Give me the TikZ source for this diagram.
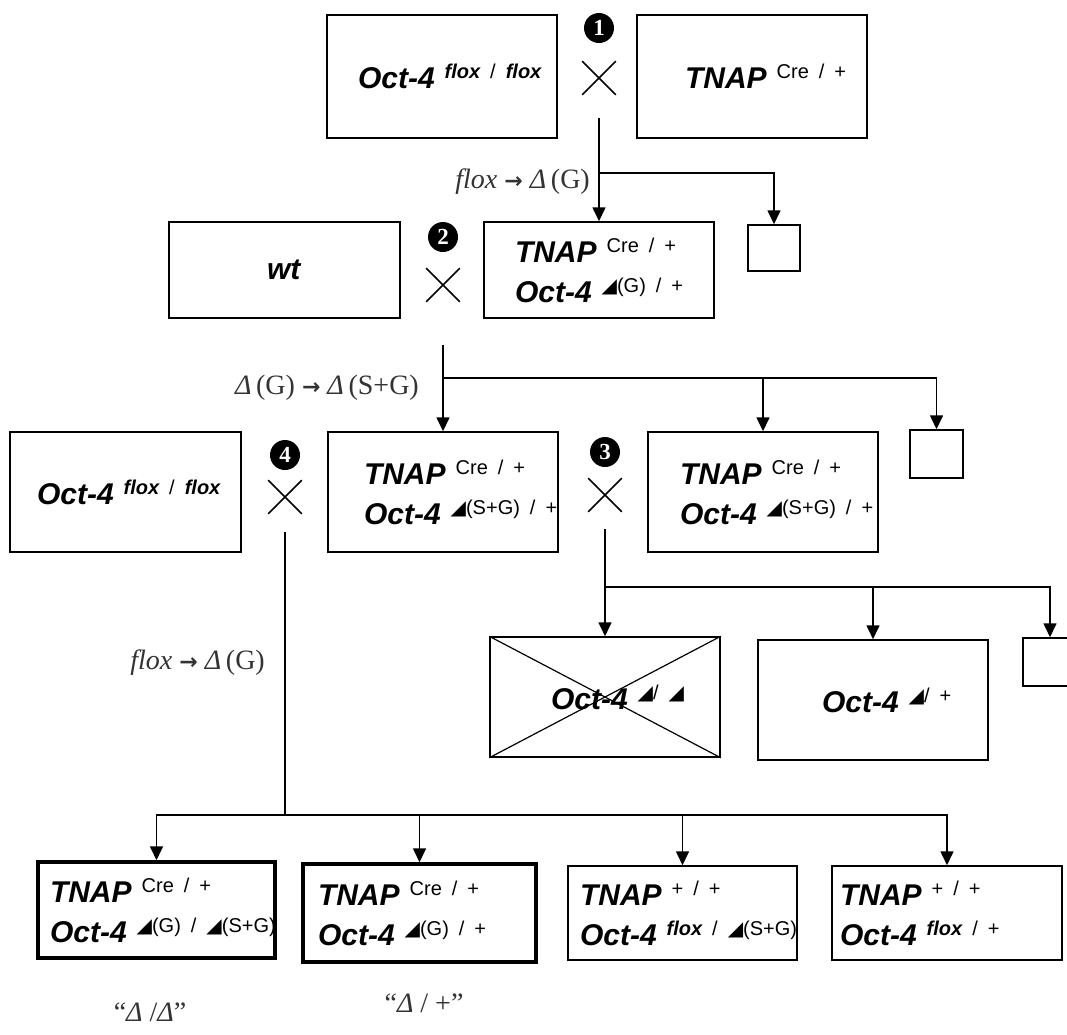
\documentclass[tikz,border=0pt]{standalone}
\usepackage{fontspec}
\setmainfont{Liberation Serif}
\setsansfont{Liberation Sans}
\newfontfamily\symfont{DejaVu Sans}
\usetikzlibrary{arrows.meta,shapes.misc}
\newcommand\genofont{\fontsize{30}{40}\selectfont\sffamily\bfseries\itshape}
\newcommand\sups[1]{\raisebox{10pt}{\fontsize{20}{20}\selectfont\mdseries\upshape #1}}
\newcommand\geno[2]{\mbox{#1 \sups{#2}}}
\newcommand\fl{{\bfseries\itshape flox}}
\newcommand\dl{{\symfont ◢}}
\newcommand\goes{{\symfont\bfseries\fontsize{22}{22}\selectfont →}}
\tikzset{
  gbox/.code n args={3}{\pgfmathsetmacro\boxtw{#1-2*#3}%
    \tikzset{draw, line width=1.5pt, minimum height=#2, inner xsep=#3, inner ysep=0pt,
             text width=\boxtw pt, align=left, font=\genofont}},
  sbox/.style={draw, line width=1.5pt, minimum width=52, minimum height=46, inner sep=0pt},
  xmark/.style={cross out, draw, line width=1.6pt, minimum size=32, inner sep=0pt},
  numb/.style={circle, fill=black, text=white, inner sep=0pt, minimum size=30,
               font=\fontsize{23}{23}\selectfont\bfseries},
  conn/.style={line width=1.6pt, -{Triangle[length=14pt,width=13pt]}},
  link/.style={line width=1.6pt},
  lab/.style={font=\fontsize{28}{32}\selectfont, text=black!80, inner sep=0pt},
}
\begin{document}
\begin{tikzpicture}[x=1pt, y=-1pt]
\clip (0,0) rectangle (1067,1034);

% first cross
\node[gbox={230}{123}{31}] (floxA) at (442,76.5) {\geno{Oct-4}{\fl{} / \fl}};
\node[gbox={230}{123}{48}] (creA) at (752,76.5) {\geno{TNAP}{Cre / +}};
\node[numb] (n1) at (599,28) {1};
\node[xmark] (c1) at (599,78) {};

% second cross
\node[gbox={231}{96}{98}] (wt) at (284.5,270) {wt};
\node[gbox={230}{96}{31}] (creG) at (599,270) {\geno{TNAP}{Cre / +}\\\geno{Oct-4}{\dl(G) / +}};
\node[sbox] (s1) at (774,248) {};
\node[numb] (n2) at (443,237) {2};
\node[xmark] (c2) at (443,285) {};

% third row
\node[gbox={231}{120}{27}] (floxB) at (125.5,492) {\geno{Oct-4}{\fl{} / \fl}};
\node[gbox={230}{120}{36}] (creSG) at (443,492) {\geno{TNAP}{Cre / +}\\\geno{Oct-4}{\dl(S+G) / +}};
\node[gbox={230}{120}{32}] (creSGb) at (763,492) {\geno{TNAP}{Cre / +}\\\geno{Oct-4}{\dl(S+G) / +}};
\node[sbox, minimum width=53, minimum height=48] (s2) at (936.5,454) {};
\node[numb] (n4) at (285,455) {4};
\node[xmark] (c4) at (285,497) {};
\node[numb] (n3) at (605,452) {3};
\node[xmark] (c3) at (605,495) {};

% offspring of cross 3
\node[gbox={230}{120}{61}] (dd) at (605,697) {\geno{Oct-4}{\dl/ \dl}};
\draw[line width=1.2pt] (dd.north west) -- (dd.south east) (dd.south west) -- (dd.north east);
\node[gbox={230}{120}{64}] (dp) at (873,700) {\geno{Oct-4}{\dl/ +}};
\node[sbox, minimum width=54, minimum height=48] (s3) at (1050,662) {};

% offspring of cross 4
\node[gbox={237}{96}{12}, line width=3.5pt] (kiA) at (156.5,910) {\geno{TNAP}{Cre / +}\\\geno{Oct-4}{\dl(G) / \dl(S+G)}};
\node[gbox={233}{98}{15}, line width=3.5pt] (kiB) at (419.5,913) {\geno{TNAP}{Cre / +}\\\geno{Oct-4}{\dl(G) / +}};
\node[gbox={229}{94}{12}] (wtA) at (682.5,913) {\geno{TNAP}{+ / +}\\\geno{Oct-4}{\fl{} / \dl(S+G)}};
\node[gbox={230}{94}{8}] (wtB) at (947,913) {\geno{TNAP}{+ / +}\\\geno{Oct-4}{\fl{} / +}};

% labels
\node[lab, anchor=east] (lab1) at (590,182) {\textit{flox} \goes{} \textit{Δ}\,(G)};
\node[lab, anchor=east] (lab2) at (419,388) {\textit{Δ}\,(G) \goes{} \textit{Δ}\,(S+G)};
\node[lab, anchor=east] (lab3) at (265,663) {\textit{flox} \goes{} \textit{Δ}\,(G)};
\node[lab] (q1) at (150,1012) {“\textit{Δ} /\textit{Δ}”};
\node[lab] (q2) at (424,1003) {“\textit{Δ} / +”};

% connectors
\coordinate (t1) at (599,118);
\coordinate (b1) at (599,173);
\draw[conn] (t1) -- (creG.north);
\draw[conn] (b1) -| (s1.north);

\coordinate (t2) at (443,345);
\coordinate (b2) at (443,378);
\draw[conn] (t2) -- (creSG.north);
\draw[conn] (b2) -| (creSGb.north);
\draw[conn] (b2) -| (s2.north);

\coordinate (t3) at (605,529);
\coordinate (b3) at (605,587);
\draw[conn] (t3) -- (dd.north);
\draw[conn] (b3) -| (dp.north);
\draw[conn] (b3) -| (s3.north);

\coordinate (t4) at (285,532);
\coordinate (b4) at (285,815);
\draw[link] (t4) -- (b4);
\draw[conn] (b4) -| (kiA.north);
\draw[conn] (b4) -| (kiB.north);
\draw[conn] (b4) -| (wtA.north);
\draw[conn] (b4) -| (wtB.north);

\end{tikzpicture}
\end{document}
